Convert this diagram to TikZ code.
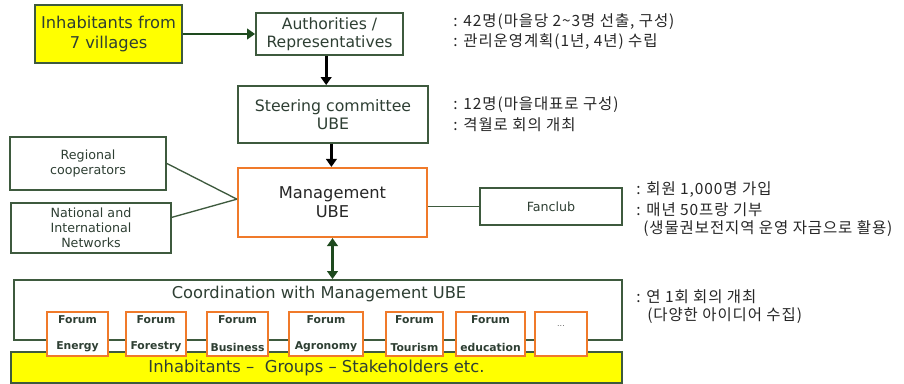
\documentclass[tikz,border=0pt]{standalone}
\usepackage{fontspec}
\setmainfont{DejaVu Sans}
\newfontfamily\kor[LetterSpace=6]{Noto Sans CJK KR}
\usetikzlibrary{arrows.meta}
\definecolor{dgreen}{HTML}{3E5A3E}
\definecolor{tgreen}{HTML}{2E3F33}
\definecolor{orng}{HTML}{F07A2A}
\definecolor{yel}{HTML}{FFFF00}
\definecolor{arrgreen}{HTML}{1E4A1E}
\tikzset{
  gbox/.style={draw=dgreen, line width=1.4pt, fill=white, text=tgreen, align=center, inner sep=0pt},
  obox/.style={draw=orng, line width=1.6pt, fill=white, text=tgreen, align=center, inner sep=0pt},
  fbox/.style={draw=orng, line width=1pt, fill=white, inner sep=0pt},
  ftext/.style={text=tgreen, font=\fontsize{8.1}{9}\selectfont\bfseries, inner sep=0pt},
  kt/.style={anchor=west, inner sep=0pt, text=black!85, font=\kor\fontsize{11.6}{12}\selectfont},
  garr/.style={draw=arrgreen, line width=2.2pt, -{Triangle[length=6pt,width=8pt]}},
  barr/.style={draw=black, line width=2.2pt, -{Triangle[length=6pt,width=8pt]}},
  conn/.style={draw=dgreen, line width=1pt},
}
\begin{document}
\begin{tikzpicture}[x=0.75pt,y=-0.75pt]
\path[use as bounding box, fill=white] (0,0) rectangle (904,384);
% top boxes
\node[gbox, fill=yel, minimum width=110.25pt, minimum height=43.5pt, font=\fontsize{12.2}{14.5}\selectfont] (inh) at (108.5,34) {Inhabitants from\\7 villages};
\node[gbox, minimum width=110.25pt, minimum height=31.5pt, font=\fontsize{11.7}{13.5}\selectfont] (auth) at (329.5,34) {Authorities /\\Representatives};
\node[gbox, minimum width=142.5pt, minimum height=42.75pt, font=\fontsize{11.8}{13.5}\selectfont] (steer) at (333,114.5) {Steering committee\\UBE};
\node[obox, minimum width=141.75pt, minimum height=51.75pt, font=\fontsize{12.2}{14}\selectfont, text=black!85] (mgmt) at (332.5,202.5) {Management\\UBE};
\node[gbox, minimum width=117pt, minimum height=39.75pt, font=\fontsize{9.5}{11.5}\selectfont] (reg) at (88,163.5) {Regional\\cooperators};
\node[gbox, minimum width=120pt, minimum height=37.5pt, font=\fontsize{9.5}{11.2}\selectfont] (nat) at (91,228) {National and\\International\\Networks};
\node[gbox, minimum width=106.5pt, minimum height=27.75pt, font=\fontsize{9.5}{11}\selectfont] (fan) at (551,206.5) {Fanclub};
% bottom
\node[gbox, minimum width=456pt, minimum height=45pt] (coord) at (318,310) {};
\node[text=tgreen, inner sep=0pt, font=\fontsize{12.2}{13}\selectfont] (coordt) at (319,294) {Coordination with Management UBE};
\node[draw=dgreen, line width=1.4pt, fill=yel, text=tgreen, inner sep=0pt, minimum width=458.25pt, minimum height=23.25pt, font=\fontsize{12.3}{13}\selectfont] (inhb) at (316.5,367.5) {Inhabitants --\ \ Groups -- Stakeholders etc.};
% forums
\foreach \nm/\cx/\w/\lab in {f1/77.5/45.75/Energy, f2/156/45/Forestry, f3/237.5/45.75/Business, f4/326/55.5/Agronomy, f5/414.5/42.75/Tourism, f6/490.5/51.75/education}{
  \node[fbox, minimum width=\w pt, minimum height=33pt] (\nm) at (\cx,334) {};
  \node[ftext] (\nm a) at (\cx,320) {Forum};
  \node[ftext] (\nm b) at (\cx,347) {\lab};
}
\node[fbox, minimum width=39pt, minimum height=33pt] (f7) at (561,334) {};
\node[text=black!60, inner sep=0pt, font=\fontsize{6}{7}\selectfont] (f7a) at (561,326) {...};
% connectors
\draw[garr] (inh.east) -- (auth.west);
\draw[barr] ([xshift=-2.5pt]auth.south) -- ([xshift=-2.5pt]auth.south |- steer.north);
\draw[barr] ([xshift=-1.2pt]steer.south) -- ([xshift=-1.2pt]steer.south |- mgmt.north);
\draw[draw=arrgreen, line width=2.2pt, {Triangle[length=6pt,width=8pt]}-{Triangle[length=6pt,width=8pt]}] (mgmt.south) -- (mgmt.south |- coord.north);
\coordinate (mj) at ([yshift=2.5pt]mgmt.west);
\draw[conn] (reg.east) -- (mj);
\draw[conn] ([yshift=8pt]nat.east) -- (mj);
\draw[conn] (fan.west) -- (mgmt.east |- fan.west);
% Korean notes
\node[kt] (k1) at (453,22) {: 42명(마을당 2\textasciitilde3명 선출, 구성)};
\node[kt] (k2) at (453,42) {: 관리운영계획(1년, 4년) 수립};
\node[kt] (k3) at (453,105) {: 12명(마을대표로 구성)};
\node[kt] (k4) at (453,125) {: 격월로 회의 개최};
\node[kt] (k5) at (636,190) {: 회원 1,000명 가입};
\node[kt] (k6) at (636,210) {: 매년 50프랑 기부};
\node[kt] (k7) at (643,229) {(생물권보전지역 운영 자금으로 활용)};
\node[kt] (k8) at (636,297) {: 연 1회 회의 개최};
\node[kt] (k9) at (647,316) {(다양한 아이디어 수집)};
\end{tikzpicture}
\end{document}
